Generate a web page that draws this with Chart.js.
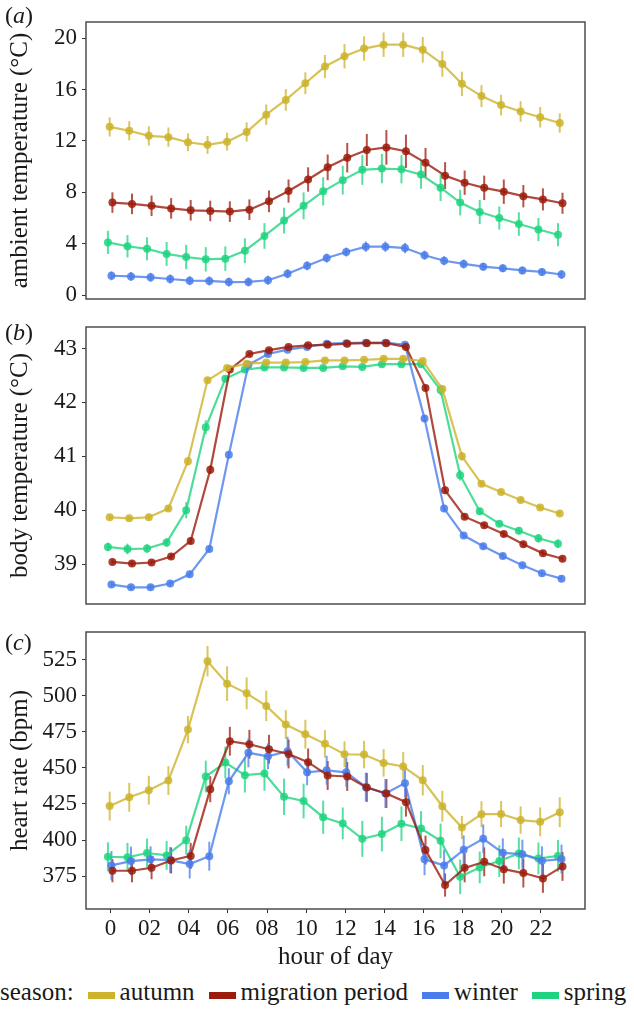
<!DOCTYPE html>
<html>
<head>
<meta charset="utf-8">
<script src="https://cdn.jsdelivr.net/npm/chart.js@4.4.1/dist/chart.umd.min.js"></script>
<style>
  body { margin: 0; background: #fff; font-family: 'Liberation Serif', 'Times New Roman', serif; color: #1a1a1a; }
  #wrap { position: relative; width: 634px; height: 1009px; overflow: hidden; }
  .panel { position: absolute; left: 0; width: 634px; }
  .tag { position: absolute; left: 5px; font-size: 24px; line-height: 24px; }
  #legend { position: absolute; left: 0; top: 978px; font-size: 25px; line-height: 28px; white-space: nowrap; display: flex; align-items: center; }
  #legend .sw { display: inline-block; width: 27px; height: 7px; margin-left: 14px; margin-right: 5px; position: relative; top: 3px; }
</style>
</head>
<body>
<div id="wrap">
  <div class="panel" style="top:0;height:305px"><canvas id="chartA"></canvas></div>
  <div class="panel" style="top:305px;height:305px"><canvas id="chartB"></canvas></div>
  <div class="panel" style="top:615px;height:360px"><canvas id="chartC"></canvas></div>
  <div class="tag" style="top:3px">(<i>a</i>)</div>
  <div class="tag" style="top:320px">(<i>b</i>)</div>
  <div class="tag" style="top:630px">(<i>c</i>)</div>
  <div id="legend"><span>season:</span></div>
</div>
<script>
// hours and tick labels
const hours = [0,1,2,3,4,5,6,7,8,9,10,11,12,13,14,15,16,17,18,19,20,21,22,23]
const xTicks = [0,2,4,6,8,10,12,14,16,18,20,22]
const xTickLabels = ['0','02','04','06','08','10','12','14','16','18','20','22']

const seasons = ['autumn', 'migration period', 'winter', 'spring']
const seasonColors = ['#CDB32C', '#9B1C0C', '#4A7DEB', '#1FD480']
const dodge = [-0.04, 0.1, 0.05, -0.13]

// (a) ambient temperature
const ambientAutumn = [13.1,12.8,12.4,12.3,11.9,11.7,11.95,12.7,14.05,15.2,16.5,17.8,18.6,19.2,19.5,19.5,19.1,18.0,16.45,15.5,14.8,14.3,13.85,13.4]
const ambientMigration = [7.2,7.1,6.95,6.75,6.6,6.55,6.5,6.65,7.3,8.1,9.0,9.95,10.7,11.3,11.5,11.2,10.3,9.3,8.75,8.35,8.05,7.7,7.45,7.15]
const ambientWinter = [1.5,1.45,1.38,1.25,1.12,1.1,1.01,1.02,1.15,1.66,2.28,2.88,3.35,3.77,3.77,3.66,3.1,2.67,2.42,2.21,2.08,1.92,1.8,1.6]
const ambientSpring = [4.1,3.8,3.6,3.2,2.96,2.78,2.83,3.45,4.6,5.8,6.95,8.08,8.95,9.75,9.85,9.8,9.38,8.36,7.2,6.47,6.0,5.53,5.1,4.7]
const ambientAutumnErr = [0.75,0.75,0.75,0.75,0.7,0.7,0.7,0.75,0.8,0.85,0.85,0.9,0.95,0.95,0.95,0.95,1.0,1.0,0.95,0.85,0.8,0.8,0.8,0.75]
const ambientMigrationErr = [0.8,0.8,0.8,0.8,0.8,0.8,0.8,0.8,0.85,0.9,0.95,1.0,1.15,1.25,1.35,1.3,1.15,1.05,0.95,0.95,0.95,0.87,0.86,0.82]
const ambientWinterErr = [0.35,0.35,0.35,0.35,0.35,0.35,0.35,0.35,0.35,0.35,0.35,0.35,0.35,0.4,0.4,0.4,0.35,0.35,0.35,0.3,0.3,0.3,0.3,0.35]
const ambientSpringErr = [0.9,0.87,0.9,0.93,0.95,0.95,0.95,0.97,1.0,1.0,1.05,1.1,1.12,1.17,1.14,1.1,1.1,1.04,1.0,0.94,0.9,0.92,0.9,0.9]
const ambientTicks = [0,4,8,12,16,20]

// (b) body temperature
const bodyAutumn = [39.87,39.85,39.87,40.03,40.91,42.41,42.64,42.72,42.74,42.74,42.75,42.78,42.78,42.79,42.81,42.81,42.77,42.25,41.0,40.49,40.34,40.19,40.05,39.94]
const bodyMigration = [39.04,39.01,39.03,39.14,39.43,40.75,42.61,42.9,42.97,43.03,43.06,43.07,43.09,43.1,43.1,43.03,42.27,40.37,39.88,39.72,39.56,39.37,39.2,39.1]
const bodyWinter = [38.62,38.57,38.57,38.64,38.81,39.28,41.03,42.7,42.9,42.98,43.03,43.09,43.1,43.11,43.11,43.07,41.7,40.03,39.53,39.33,39.15,38.98,38.83,38.73]
const bodySpring = [39.32,39.28,39.29,39.4,40.0,41.54,42.44,42.61,42.65,42.65,42.64,42.64,42.67,42.66,42.71,42.71,42.71,42.23,40.65,39.98,39.75,39.62,39.48,39.38]
const bodyAutumnErr = [0.04,0.04,0.04,0.05,0.08,0.05,0.04,0.04,0.04,0.04,0.04,0.04,0.04,0.04,0.04,0.04,0.04,0.06,0.08,0.04,0.04,0.04,0.04,0.04]
const bodyMigrationErr = [0.05,0.05,0.05,0.05,0.06,0.08,0.05,0.04,0.04,0.04,0.04,0.04,0.04,0.04,0.04,0.04,0.05,0.06,0.05,0.05,0.05,0.05,0.05,0.05]
const bodyWinterErr = [0.05,0.05,0.05,0.05,0.05,0.06,0.06,0.05,0.05,0.04,0.04,0.04,0.04,0.04,0.04,0.04,0.06,0.05,0.05,0.05,0.05,0.05,0.05,0.06]
const bodySpringErr = [0.08,0.1,0.08,0.08,0.15,0.13,0.05,0.04,0.04,0.04,0.04,0.04,0.04,0.04,0.04,0.04,0.04,0.1,0.1,0.06,0.05,0.06,0.08,0.08]
const bodyTicks = [39,40,41,42,43]

// (c) heart rate
const heartAutumn = [423.5,429.6,434.5,441.2,476.5,523.9,508.3,501.6,492.9,480.0,473.3,466.6,459.4,459.2,453.4,450.9,441.4,423.4,408.7,417.9,418.0,413.8,412.6,419.3]
const heartMigration = [378.7,378.7,380.8,385.8,389.0,435.2,468.4,466.3,462.9,459.6,453.9,444.7,444.0,436.4,432.2,426.2,393.0,368.8,380.7,384.9,379.8,377.1,373.4,381.7]
const heartWinter = [382.4,385.4,386.6,386.1,383.3,388.8,440.7,460.4,458.0,461.5,446.9,448.3,446.9,436.7,432.2,439.4,386.6,382.4,393.2,400.8,391.1,390.2,385.6,386.8]
const heartSpring = [388.4,388.0,391.0,389.3,399.9,444.0,453.7,444.9,446.1,429.9,427.0,415.8,411.5,400.8,404.1,411.3,408.0,399.4,374.5,381.0,385.4,390.7,387.2,389.0]
const heartAutumnErr = [10,10,10,10,9.5,10.5,12,11,10.5,10,10,9.5,9,9.5,9.5,10,10.5,10.7,8,9,9,9.5,10,10.4]
const heartMigrationErr = [8,8,8,9,9,9,10,10,10,10,9.5,10,10,10,10,10,10,8,10,10,10,10,10,10]
const heartWinterErr = [10,10,9,9,10,10,9,10,9,10,9,10,10,10,10,10,11,11,10,10,10,10,10,10]
const heartSpringErr = [10,10,10,10,10,11,11,12,12,12.6,12,11.5,11,12.5,12,12,12,12,12,11,11,11,11,11]
const heartTicks = [375,400,425,450,475,500,525]

const FONT = "'Liberation Serif', 'Times New Roman', serif"

function rgba(hex, a) {
    const n = parseInt(hex.slice(1), 16)
    return `rgba(${n >> 16},${(n >> 8) & 255},${n & 255},${a})`
}

const errorBars = {
    id: 'errorBars',
    beforeDatasetsDraw(chart) {
        const { ctx } = chart
        const ys = chart.scales.y
        chart.data.datasets.forEach((ds, i) => {
            const meta = chart.getDatasetMeta(i)
            ctx.save()
            ctx.strokeStyle = rgba(ds.baseColor, 0.75)
            ctx.lineWidth = 2
            meta.data.forEach((pt, j) => {
                const v = ds.data[j].y, e = ds.errors[j]
                ctx.beginPath()
                ctx.moveTo(pt.x, ys.getPixelForValue(v - e))
                ctx.lineTo(pt.x, ys.getPixelForValue(v + e))
                ctx.stroke()
            })
            ctx.restore()
        })
    }
}

const frame = {
    id: 'frame',
    afterDraw(chart) {
        const { ctx, chartArea: a } = chart
        ctx.save()
        ctx.strokeStyle = '#4d4d4d'
        ctx.lineWidth = 1.5
        ctx.strokeRect(a.left, a.top, a.right - a.left, a.bottom - a.top)
        ctx.restore()
    }
}

function makePanel(canvasId, opts) {
    const datasets = opts.series.map((vals, i) => ({
        label: seasons[i],
        data: hours.map((h, j) => ({ x: h + dodge[i], y: vals[j] })),
        errors: opts.errors[i],
        baseColor: seasonColors[i],
        borderColor: rgba(seasonColors[i], 0.8),
        backgroundColor: rgba(seasonColors[i], 0.85),
        borderWidth: 2.2,
        pointRadius: 4,
        pointBorderWidth: 0,
        tension: 0
    }))
    return new Chart(document.getElementById(canvasId), {
        type: 'line',
        data: { datasets },
        options: {
            responsive: true,
            maintainAspectRatio: false,
            animation: false,
            layout: { padding: opts.padding },
            plugins: { legend: { display: false }, tooltip: { enabled: false } },
            scales: {
                x: {
                    type: 'linear',
                    min: -1.25,
                    max: 24.25,
                    display: opts.showX,
                    afterBuildTicks: s => { s.ticks = xTicks.map(v => ({ value: v })) },
                    afterFit: s => {
                        if (opts.showX) s.height = 66
                        s.paddingLeft = 0; s.paddingRight = 0
                    },
                    grid: { drawOnChartArea: false, drawTicks: true, tickLength: 4, tickColor: '#333' },
                    border: { display: false },
                    ticks: { color: '#1a1a1a', font: { family: FONT, size: 23 }, padding: 2, maxRotation: 0, autoSkip: false,
                        callback: (v, i) => xTickLabels[i] },
                    title: { display: true, text: 'hour of day', color: '#1a1a1a', font: { family: FONT, size: 25 }, padding: { top: 0, bottom: 3 } }
                },
                y: {
                    min: opts.yMin,
                    max: opts.yMax,
                    afterBuildTicks: s => { s.ticks = opts.yTicks.map(v => ({ value: v })) },
                    afterFit: s => { s.width = 86; s.paddingTop = 0; s.paddingBottom = 0 },
                    grid: { drawOnChartArea: false, drawTicks: true, tickLength: 4, tickColor: '#333' },
                    border: { display: false },
                    ticks: { color: '#1a1a1a', font: { family: FONT, size: 23 }, padding: 5, callback: v => String(v) },
                    title: { display: true, text: opts.title, color: '#1a1a1a', font: { family: FONT, size: 25 }, padding: { top: 5, bottom: 0 } }
                }
            }
        },
        plugins: [errorBars, frame]
    })
}

makePanel('chartA', {
    series: [ambientAutumn, ambientMigration, ambientWinter, ambientSpring],
    errors: [ambientAutumnErr, ambientMigrationErr, ambientWinterErr, ambientSpringErr],
    yMin: -0.31, yMax: 21.27, yTicks: ambientTicks,
    title: 'ambient temperature (°C)',
    showX: false,
    padding: { top: 22, right: 49, bottom: 6, left: 0 }
})

makePanel('chartB', {
    series: [bodyAutumn, bodyMigration, bodyWinter, bodySpring],
    errors: [bodyAutumnErr, bodyMigrationErr, bodyWinterErr, bodySpringErr],
    yMin: 38.26, yMax: 43.4, yTicks: bodyTicks,
    title: 'body temperature (°C)',
    showX: false,
    padding: { top: 22, right: 49, bottom: 6, left: 0 }
})

makePanel('chartC', {
    series: [heartAutumn, heartMigration, heartWinter, heartSpring],
    errors: [heartAutumnErr, heartMigrationErr, heartWinterErr, heartSpringErr],
    yMin: 352.2, yMax: 544.1, yTicks: heartTicks,
    title: 'heart rate (bpm)',
    showX: true,
    padding: { top: 17, right: 49, bottom: 0, left: 0 }
})

// legend
const legend = document.getElementById('legend')
seasons.forEach((name, i) => {
    const sw = document.createElement('span')
    sw.className = 'sw'
    sw.style.background = seasonColors[i]
    const tx = document.createElement('span')
    tx.textContent = name
    legend.appendChild(sw)
    legend.appendChild(tx)
})
</script>
</body>
</html>
